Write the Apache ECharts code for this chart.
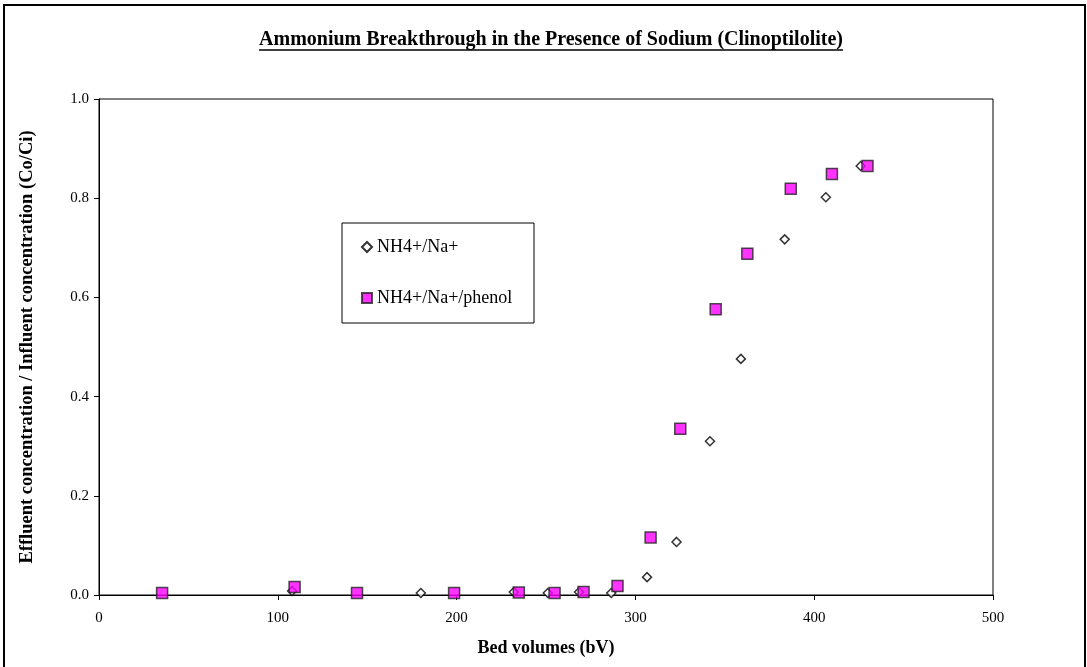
<!DOCTYPE html>
<html>
<head>
<meta charset="utf-8">
<script src="https://cdn.jsdelivr.net/npm/echarts@6/dist/echarts.min.js"></script>
<style>
  html, body { margin: 0; padding: 0; background: #fff; }
  #chart { width: 1087px; height: 667px; }
</style>
</head>
<body>
<div id="chart"></div>
<script>
// bed volumes and Co/Ci
const naX = [108, 180, 232, 251, 268.5, 286.5, 306.5, 323, 341.7, 359, 383.5, 406.5, 426]
const naY = [0.008, 0.004, 0.006, 0.004, 0.006, 0.004, 0.036, 0.107, 0.31, 0.476, 0.717, 0.802, 0.865]

const phenolX = [35.3, 109.4, 144.3, 198.6, 234.8, 254.8, 271, 290, 308.5, 325.1, 344.9, 362.6, 386.9, 409.9, 429.8]
const phenolY = [0.004, 0.016, 0.004, 0.004, 0.005, 0.004, 0.006, 0.018, 0.116, 0.335, 0.576, 0.688, 0.819, 0.849, 0.865]

const seriesNames = ['NH4+/Na+', 'NH4+/Na+/phenol']
const titleText = 'Ammonium Breakthrough in the Presence of Sodium (Clinoptilolite)'

const serif = "'Liberation Serif', 'Times New Roman', serif"
const pairs = (xs, ys) => xs.map((x, i) => [x, ys[i]])

// width of the title, for the underline
const titleFont = 'bold 20px ' + serif
const ctx = document.createElement('canvas').getContext('2d')
ctx.font = titleFont
const titleW = ctx.measureText(titleText).width
const titleCx = 551

const chart = echarts.init(document.getElementById('chart'))

chart.setOption({
  backgroundColor: '#fff',
  animation: false,
  textStyle: { fontFamily: serif, color: '#000' },
  grid: {
    left: 99, top: 99, width: 894, height: 496,
    show: true, borderColor: '#000', borderWidth: 1
  },
  xAxis: {
    type: 'value', min: 0, max: 500, interval: 100,
    name: 'Bed volumes (bV)', nameLocation: 'middle', nameGap: 44,
    nameTextStyle: { fontWeight: 'bold', fontSize: 18, color: '#000', fontFamily: serif },
    axisLine: { lineStyle: { color: '#000', width: 1 } },
    axisTick: { inside: false, length: 5, lineStyle: { color: '#000' } },
    axisLabel: { color: '#000', fontSize: 15, margin: 16, fontFamily: serif },
    splitLine: { show: false }
  },
  yAxis: {
    type: 'value', min: 0, max: 1, interval: 0.2,
    name: 'Effluent concentration / Influent concentration (Co/Ci)',
    nameLocation: 'middle', nameGap: 62,
    nameTextStyle: { fontWeight: 'bold', fontSize: 18.5, color: '#000', fontFamily: serif },
    axisLine: { lineStyle: { color: '#000', width: 1 } },
    axisTick: { inside: false, length: 5, lineStyle: { color: '#000' } },
    axisLabel: {
      color: '#000', fontSize: 15, margin: 10, fontFamily: serif,
      formatter: v => v.toFixed(1)
    },
    splitLine: { show: false }
  },
  legend: {
    left: 356, top: 233, orient: 'vertical', itemGap: 33,
    itemWidth: 10, itemHeight: 10,
    textStyle: { fontSize: 18, color: '#000', fontFamily: serif },
    data: seriesNames
  },
  graphic: [
    {
      type: 'rect', silent: true,
      shape: { x: 4, y: 5, width: 1081, height: 700 },
      style: { fill: 'none', stroke: '#000', lineWidth: 2 }
    },
    {
      type: 'rect', silent: true, z: 0,
      shape: { x: 342, y: 223, width: 192, height: 100 },
      style: { fill: '#fff', stroke: '#000', lineWidth: 1 }
    },
    {
      type: 'text', silent: true,
      x: titleCx, y: 40,
      style: {
        text: titleText, font: titleFont,
        fill: '#000', align: 'center', verticalAlign: 'middle'
      }
    },
    {
      type: 'line', silent: true,
      shape: { x1: titleCx - titleW / 2, y1: 50, x2: titleCx + titleW / 2, y2: 50 },
      style: { stroke: '#000', lineWidth: 1.5 }
    }
  ],
  series: [
    {
      name: seriesNames[0], type: 'scatter', symbol: 'diamond', symbolSize: 9,
      itemStyle: { color: '#fff', borderColor: '#000', borderWidth: 1.5 },
      data: pairs(naX, naY), z: 3
    },
    {
      name: seriesNames[1], type: 'scatter', symbol: 'rect', symbolSize: 11,
      itemStyle: { color: '#ff00ff', borderColor: '#222', borderWidth: 1.5 },
      data: pairs(phenolX, phenolY), z: 4
    }
  ]
})
</script>
</body>
</html>
